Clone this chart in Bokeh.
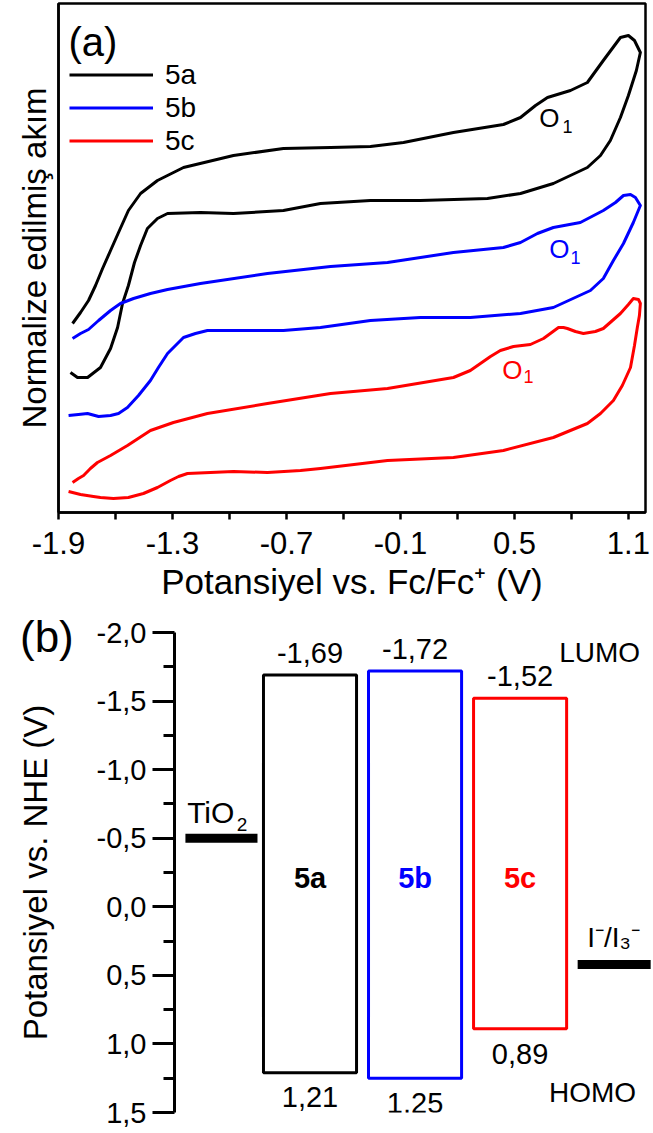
from bokeh.plotting import figure
from bokeh.models import (Range1d, FixedTicker, Label, Legend, LegendItem,
                          CustomJSTickFormatter, Div)
from bokeh.embed import file_html
from bokeh.resources import INLINE
from bokeh.core.properties import value

FONT = "Liberation Sans"

# ---------------- Panel (a): cyclic voltammograms ----------------
pot_5a = [-1.826, -1.784, -1.742, -1.705, -1.668, -1.626, -1.584, -1.532, -1.468, -1.379,
          -1.242, -0.979, -0.716, -0.468, -0.258, -0.084, 0.179, 0.442, 0.532, 0.611,
          0.674, 0.795, 0.884, 0.968, 1.058, 1.100, 1.132, 1.163,
          1.142, 1.100, 1.058, 1.005, 0.953, 0.884, 0.705, 0.532, 0.358, 0.005,
          -0.258, -0.521, -0.716, -0.979, -1.153, -1.326, -1.379, -1.432, -1.468, -1.500,
          -1.532, -1.563, -1.589, -1.626, -1.679, -1.747, -1.800, -1.837]
cur_5a = [1.89, 2.00, 2.12, 2.27, 2.44, 2.62, 2.80, 3.02, 3.19, 3.32,
          3.45, 3.57, 3.64, 3.65, 3.66, 3.70, 3.80, 3.88, 3.95, 4.07,
          4.15, 4.22, 4.30, 4.52, 4.75, 4.77, 4.72, 4.60,
          4.42, 4.17, 3.95, 3.72, 3.57, 3.45, 3.29, 3.19, 3.14, 3.12,
          3.12, 3.09, 3.02, 2.99, 3.00, 2.99, 2.94, 2.84, 2.67, 2.50,
          2.27, 2.09, 1.85, 1.64, 1.45, 1.35, 1.35, 1.40]

pot_5b = [-1.826, -1.784, -1.742, -1.689, -1.626, -1.574, -1.505, -1.416, -1.326, -1.153,
          -0.800, -0.468, -0.168, 0.179, 0.442, 0.532, 0.621, 0.705, 0.847, 0.968,
          1.032, 1.074, 1.111, 1.137, 1.163,
          1.126, 1.074, 1.021, 0.968, 0.900, 0.705, 0.532, 0.268, 0.005, -0.258,
          -0.521, -0.716, -0.889, -1.116, -1.179, -1.242, -1.284, -1.326, -1.374, -1.416,
          -1.479, -1.537, -1.584, -1.626, -1.689, -1.747, -1.795, -1.847]
cur_5b = [1.74, 1.79, 1.83, 1.92, 2.02, 2.09, 2.14, 2.19, 2.23, 2.29,
          2.39, 2.46, 2.50, 2.60, 2.65, 2.70, 2.79, 2.85, 2.90, 3.02,
          3.10, 3.17, 3.18, 3.15, 3.07,
          2.90, 2.69, 2.52, 2.34, 2.22, 2.05, 1.99, 1.95, 1.95, 1.92,
          1.85, 1.82, 1.82, 1.82, 1.79, 1.75, 1.67, 1.59, 1.45, 1.32,
          1.17, 1.05, 0.99, 0.97, 0.96, 0.99, 0.98, 0.97]

pot_5c = [-1.826, -1.795, -1.768, -1.732, -1.695, -1.626, -1.537, -1.416, -1.295, -1.116,
          -0.800, -0.468, -0.168, 0.179, 0.268, 0.321, 0.374, 0.426, 0.495, 0.584,
          0.653, 0.689, 0.732, 0.758, 0.779, 0.821, 0.863, 0.926, 0.968, 1.016,
          1.058, 1.100, 1.126, 1.153, 1.163,
          1.158, 1.147, 1.132, 1.111, 1.068, 1.021, 0.953, 0.884, 0.705, 0.442,
          0.179, -0.168, -0.521, -0.626, -0.800, -0.979, -1.221, -1.268, -1.311, -1.379,
          -1.453, -1.532, -1.611, -1.679, -1.716, -1.784, -1.847]
cur_5c = [0.30, 0.34, 0.37, 0.44, 0.50, 0.57, 0.67, 0.82, 0.90, 0.99,
          1.09, 1.19, 1.24, 1.35, 1.42, 1.49, 1.56, 1.62, 1.66, 1.68,
          1.74, 1.79, 1.85, 1.85, 1.84, 1.81, 1.79, 1.81, 1.84, 1.92,
          1.99, 2.08, 2.14, 2.13, 2.09,
          1.97, 1.85, 1.67, 1.45, 1.27, 1.12, 0.99, 0.89, 0.75, 0.62,
          0.55, 0.52, 0.44, 0.42, 0.40, 0.41, 0.39, 0.36, 0.32, 0.25,
          0.19, 0.15, 0.14, 0.15, 0.16, 0.18, 0.21]

x_major_ticks = [-1.9, -1.3, -0.7, -0.1, 0.5, 1.1]
x_minor_ticks = [-1.6, -1.0, -0.4, 0.2, 0.8]

# ---------------- Panel (b): energy levels ----------------
compounds = ["5a", "5b", "5c"]
lumo = [-1.69, -1.72, -1.52]
homo = [1.21, 1.25, 0.89]
tio2_level = -0.5
redox_level = 0.42
y_ticks_b = [-2.0, -1.5, -1.0, -0.5, 0.0, 0.5, 1.0, 1.5]
y_minor_b = [-1.75, -1.25, -0.75, -0.25, 0.25, 0.75, 1.25]

colors = ["#000000", "#0000FF", "#FF0000"]

# ================= figure (a) =================
pa = figure(width=653, height=610, x_range=Range1d(-1.9, 1.19), y_range=Range1d(0, 5.09),
            output_backend="svg", toolbar_location=None,
            min_border_left=58, min_border_right=8, min_border_top=3, min_border_bottom=98)
pa.grid.visible = False
pa.outline_line_color = "black"
pa.outline_line_width = 2.5
pa.background_fill_color = "white"
pa.border_fill_color = "white"

xa = pa.xaxis[0]
xa.ticker = FixedTicker(ticks=x_major_ticks, minor_ticks=x_minor_ticks)
xa.formatter = CustomJSTickFormatter(code="return tick.toFixed(1);")
xa.axis_label = "Potansiyel vs. Fc/Fc\u207a (V)"
for ax in (xa, pa.yaxis[0]):
    ax.axis_line_width = 2.5
    ax.axis_line_color = "black"
    ax.major_tick_line_width = 2.5
    ax.minor_tick_line_width = 2.5
    ax.major_tick_in = 0
    ax.minor_tick_in = 0
    ax.major_label_text_font = FONT
    ax.major_label_text_color = "black"
    ax.axis_label_text_font = FONT
    ax.axis_label_text_font_style = "normal"
    ax.axis_label_text_color = "black"
xa.axis_label_text_font_size = "35px"
xa.major_tick_out = 7
xa.minor_tick_out = 7
xa.major_label_text_font_size = "31px"
xa.major_label_standoff = 12
xa.axis_label_standoff = 5

ya = pa.yaxis[0]
ya.ticker = FixedTicker(ticks=[], minor_ticks=[])
ya.major_tick_out = 0
ya.minor_tick_out = 0
ya.axis_label = "Normalize edilmiş akım"
ya.axis_label_text_font_size = "33px"
ya.axis_label_standoff = 6

curves = []
for pot, cur, c in ((pot_5a, cur_5a, colors[0]), (pot_5b, cur_5b, colors[1]), (pot_5c, cur_5c, colors[2])):
    r = pa.line(pot, cur, line_color=c, line_width=3, line_join="round")
    curves.append(r)

legend = Legend(items=[LegendItem(label=n, renderers=[r]) for n, r in zip(compounds, curves)],
                location=(11, 355), glyph_width=84, glyph_height=33, label_standoff=12,
                spacing=0, padding=0, margin=0, border_line_alpha=0, background_fill_alpha=0,
                label_text_font_size="28px", label_text_font=FONT, label_text_color="black")
pa.add_layout(legend)

# O1 peak labels
pa.text(x=[0.684, 0.737, 0.489], y=[3.95, 2.64, 1.43], text=["O", "O", "O"],
        text_color=colors, text_font_size="26px", text_align="center",
        text_baseline="middle", text_font=value(FONT))
pa.text(x=[0.779, 0.821, 0.574], y=[3.86, 2.55, 1.36], text=["1", "1", "1"],
        text_color=colors, text_font_size="18px", text_align="center",
        text_baseline="middle", text_font=value(FONT))

pa.add_layout(Label(x=10, y=471, x_units="screen", y_units="screen", text="(a)",
                    text_font_size="40px", text_baseline="middle", text_align="left",
                    text_font=FONT, text_color="black"))

# ================= figure (b) =================
pb = figure(width=653, height=523, x_range=Range1d(-0.29, 4.27), y_range=Range1d(1.5, -2.0),
            output_backend="svg", toolbar_location=None, x_axis_location=None,
            min_border_left=174, min_border_right=0, min_border_top=22, min_border_bottom=21)
pb.grid.visible = False
pb.outline_line_color = None
pb.background_fill_color = "white"
pb.border_fill_color = "white"

yb = pb.yaxis[0]
yb.ticker = FixedTicker(ticks=y_ticks_b, minor_ticks=y_minor_b)
yb.formatter = CustomJSTickFormatter(code="return tick.toFixed(1).replace('.', ',');")
yb.axis_line_width = 3
yb.major_tick_line_width = 3
yb.minor_tick_line_width = 3
yb.major_tick_in = 0
yb.minor_tick_in = 0
yb.major_tick_out = 22
yb.minor_tick_out = 11
yb.major_label_text_font = FONT
yb.major_label_text_font_size = "29px"
yb.major_label_text_color = "black"
yb.major_label_standoff = 6
yb.axis_label = "Potansiyel vs. NHE (V)"
yb.axis_label_text_font = FONT
yb.axis_label_text_font_size = "33px"
yb.axis_label_text_font_style = "normal"
yb.axis_label_text_color = "black"
yb.axis_label_standoff = 40

xs = [1 + i for i in range(len(compounds))]
half = 0.443
pb.quad(left=[x - half for x in xs], right=[x + half for x in xs], top=lumo, bottom=homo,
        fill_alpha=0, line_color=colors, line_width=3)


def fmt(v):
    return f"{v:.2f}".replace(".", ",")


pb.text(x=xs, y=[v - 0.16 for v in lumo], text=[fmt(v) for v in lumo], text_color="black",
        text_font_size="29px", text_align="center", text_baseline="middle", text_font=value(FONT))
pb.text(x=xs, y=[v + 0.18 for v in homo], text=[fmt(v) for v in homo], text_color="black",
        text_font_size="29px", text_align="center", text_baseline="middle", text_font=value(FONT))
pb.text(x=xs, y=[-0.213] * 3, text=compounds, text_color=colors, text_font_style="bold",
        text_font_size="29px", text_align="center", text_baseline="middle", text_font=value(FONT))
pb.text(x=[3.757, 3.69], y=[-1.854, 1.355], text=["LUMO", "HOMO"], text_color="black",
        text_font_size="28px", text_align="center", text_baseline="middle", text_font=value(FONT))

# TiO2 conduction band and I-/I3- redox level
pb.segment(x0=[-0.186, 3.548], y0=[tio2_level, redox_level], x1=[0.5, 4.243],
           y1=[tio2_level, redox_level], line_color="black", line_width=9)
pb.text(x=[0.055], y=[-0.687], text=["TiO"], text_color="black", text_font_size="30px",
        text_align="center", text_baseline="middle", text_font=value(FONT))
pb.text(x=[0.352], y=[-0.600], text=["2"], text_color="black", text_font_size="19px",
        text_align="center", text_baseline="middle", text_font=value(FONT))
pb.text(x=[3.89], y=[0.225], text=["I\u207b/I\u2083\u207b"], text_color="black",
        text_font_size="28px", text_align="center", text_baseline="middle", text_font=value(FONT))

label_b = Div(text="(b)", width=70, height=50,
              styles={"position": "absolute", "left": "15px", "top": "607px",
                      "font-size": "44px", "font-family": FONT, "line-height": "50px",
                      "color": "black"})

open("out.html", "w").write(file_html([pa, pb, label_b], INLINE))
